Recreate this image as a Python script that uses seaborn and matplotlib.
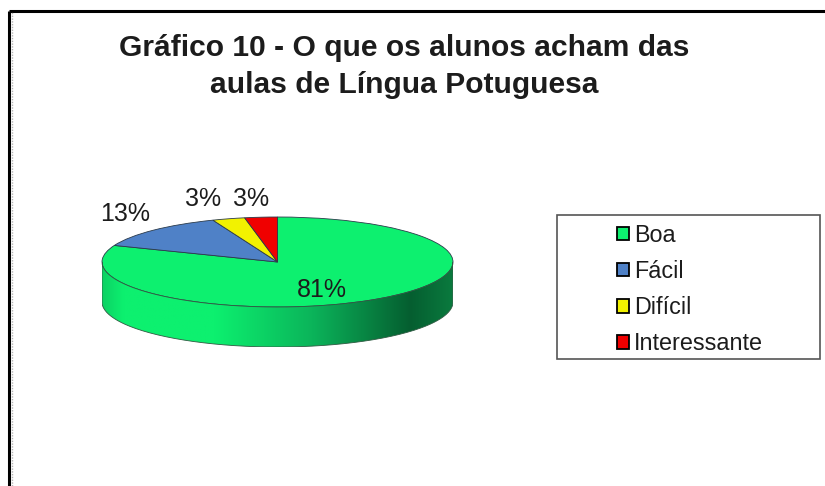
"""Grafico 10 - pie with a fake 3d wall, drawn on a pixel sized figure"""

import numpy as np
from matplotlib import pyplot as plt
from matplotlib.colors import LinearSegmentedColormap
from matplotlib.patches import PathPatch, Rectangle
from matplotlib.path import Path
import seaborn as sns

sns.set_theme(style="white")
plt.rcParams["font.family"] = ["Liberation Sans", "DejaVu Sans"]

##### Data #####################################################################
categories = ["Boa", "Fácil", "Difícil", "Interessante"]
shares = [81, 13, 3, 3]
colors = ["#0DF06F", "#4F81C7", "#F2F200", "#F00000"]
title_lines = ["Gráfico 10 - O que os alunos acham das", "aulas de Língua Potuguesa"]
wall_pos = [0.0, 0.06, 0.32, 0.6, 0.88, 1.0]
wall_stops = ["#0CD264", "#0DF06F", "#0DF06F", "#0BB45A", "#055E30", "#0A7A3E"]

W, H = 825, 486
CX, CY, RX, RY, DEPTH = 277.5, 262, 175.5, 45, 40

fig = plt.figure(figsize=(W / 100, H / 100), dpi=100, facecolor="white")

# background axes in pixels, y going down
bg = fig.add_axes([0, 0, 1, 1])
bg.set_xlim(0, W)
bg.set_ylim(H, 0)
bg.axis("off")

bg.plot([9, 9], [H, 11], color="black", lw=2.2, solid_capstyle="butt")
bg.plot([9, W], [11, 11], color="black", lw=2.2, solid_capstyle="butt")
bg.plot([11.5, 11.5], [H, 12], color="#b5b5b5", lw=1, ls=(0, (1, 1)))

bg.text(404, 48, title_lines[0], fontsize=21.6, fontweight="bold", color="#1c1c1c",
        ha="center", va="center")
bg.text(404, 85, title_lines[1], fontsize=21.6, fontweight="bold", color="#1c1c1c",
        ha="center", va="center")

bg.add_patch(Rectangle((557, 215), 263, 144, fc="white", ec="#555555", lw=1.2))

# pie axes: the unit circle is stretched to the ellipse, wall hangs below it
depth_u = DEPTH / RY
ax = fig.add_axes([
    (CX - RX) / W,
    1 - (CY + RY + DEPTH) / H,
    2 * RX / W,
    (2 * RY + DEPTH) / H,
])
wedges, _ = ax.pie(
    shares,
    colors=colors,
    startangle=90,
    counterclock=False,
    radius=1,
    wedgeprops={"edgecolor": "#2a3a4a", "linewidth": 0.6},
)
ax.set_aspect("auto")
ax.patch.set_alpha(0)

# front wall
t = np.linspace(np.pi, 2 * np.pi, 200)
xs = np.cos(t)
ys = np.sin(t)
verts = np.r_[np.c_[xs, ys], np.c_[xs[::-1], ys[::-1] - depth_u], [[xs[0], ys[0]]]]
wall = PathPatch(Path(verts), fc="none", ec="#2f5a42", lw=0.6, zorder=3)
ax.add_patch(wall)
cmap = LinearSegmentedColormap.from_list("wall", list(zip(wall_pos, wall_stops)))
im = ax.imshow(
    np.linspace(0, 1, 256).reshape(1, -1),
    cmap=cmap,
    extent=[-1, 1, -1 - depth_u, 1],
    aspect="auto",
    zorder=2,
)
im.set_clip_path(wall)
ax.set_xlim(-1, 1)
ax.set_ylim(-1 - depth_u, 1)

# slice labels on top
for label, x, y in zip(shares, [322, 125, 203, 251], [290, 214, 199, 199]):
    fig.text(x / W, 1 - y / H, f"{label}%", fontsize=18, color="#1c1c1c",
             ha="center", va="center")

leg = fig.legend(
    handles=wedges,
    labels=categories,
    loc="center left",
    bbox_to_anchor=(596 / W, 1 - 289.5 / H),
    frameon=False,
    fontsize=16.8,
    handlelength=0.52,
    handleheight=0.52,
    handletextpad=0.22,
    labelspacing=0.565,
    labelcolor="#1c1c1c",
)
for h in leg.legend_handles:
    h.set_edgecolor("black")
    h.set_linewidth(1.3)

fig.savefig("out.png", dpi=100)
